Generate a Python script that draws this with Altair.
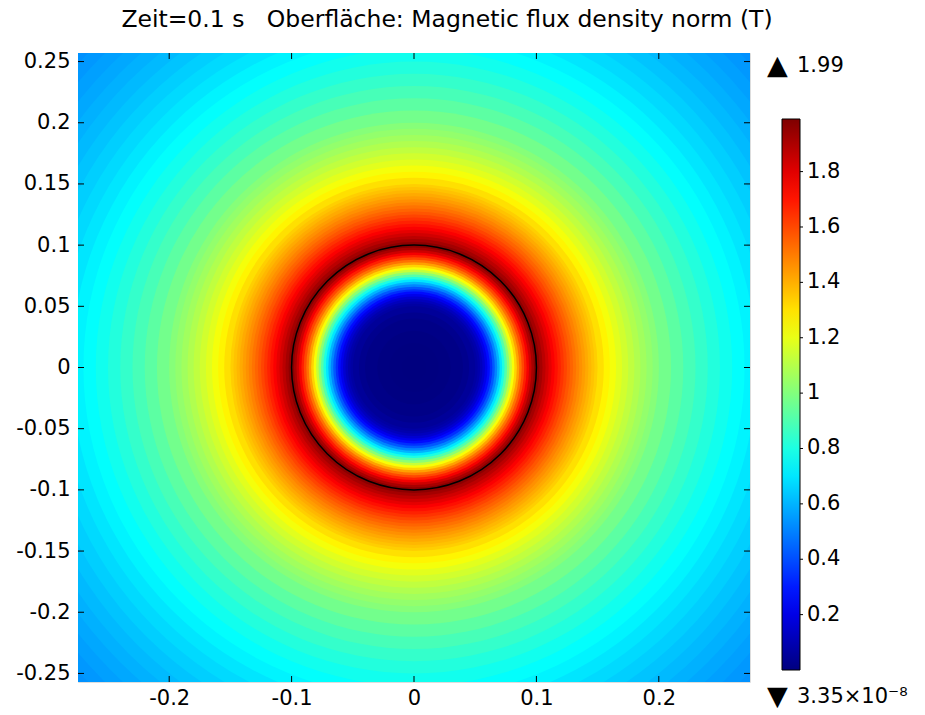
import math
import altair as alt
import pandas as pd

# ---------------- data ----------------
# radial profile of |B| (T): outer radius of each ring (m) and its value
ring_outer_r = [
    0.010, 0.020, 0.030, 0.040, 0.045, 0.050, 0.052, 0.054, 0.056, 0.058,
    0.060, 0.062, 0.064, 0.066, 0.068, 0.070, 0.072, 0.074, 0.076, 0.078,
    0.080, 0.082, 0.084, 0.086, 0.088, 0.090, 0.092, 0.094, 0.096, 0.098,
    0.100, 0.1025, 0.105, 0.1075, 0.110, 0.1125, 0.115, 0.1175, 0.120, 0.1225,
    0.125, 0.1275, 0.130, 0.1325, 0.135, 0.1375, 0.140, 0.1425, 0.145, 0.1475,
    0.150, 0.155, 0.160, 0.165, 0.170, 0.175, 0.180, 0.185, 0.190, 0.195,
    0.200, 0.210, 0.220, 0.230, 0.240, 0.250, 0.260, 0.270, 0.280, 0.290,
    0.300, 0.310, 0.320, 0.330, 0.340, 0.350, 0.360, 0.370, 0.380,
]
ring_B = [
    0.000, 0.002, 0.006, 0.015, 0.030, 0.050, 0.070, 0.090, 0.120, 0.160,
    0.210, 0.270, 0.340, 0.420, 0.510, 0.600, 0.700, 0.800, 0.910, 1.020,
    1.130, 1.230, 1.330, 1.430, 1.520, 1.600, 1.680, 1.760, 1.840, 1.910,
    1.970, 1.965, 1.918, 1.873, 1.830, 1.789, 1.749, 1.712, 1.676, 1.641,
    1.608, 1.576, 1.546, 1.516, 1.488, 1.461, 1.434, 1.409, 1.384, 1.361,
    1.338, 1.305, 1.263, 1.225, 1.188, 1.154, 1.121, 1.090, 1.061, 1.034,
    1.008, 0.971, 0.926, 0.884, 0.847, 0.812, 0.780, 0.751, 0.724, 0.698,
    0.675, 0.652, 0.632, 0.612, 0.594, 0.577, 0.561, 0.545, 0.531,
]
boundary_r = [0.1]
x_tick_values = [-0.2, -0.1, 0.0, 0.1, 0.2]
y_tick_values = [-0.25, -0.2, -0.15, -0.1, -0.05, 0.0, 0.05, 0.1, 0.15, 0.2, 0.25]
cbar_label_values = [0.2, 0.4, 0.6, 0.8, 1.0, 1.2, 1.4, 1.6, 1.8]
b_max_label = ["1.99"]
b_min_label = ["3.35\u00D710\u207B\u2078"]
max_marker = ["\u25B2"]
min_marker = ["\u25BC"]
title_text = ["Zeit=0.1 s\u00a0\u00a0\u00a0Oberfläche: Magnetic flux density norm (T)"]

# ---------------- layout ----------------
W, H = 672, 629
PX_PER_UNIT = 1224.0
FONT = "DejaVu Sans"
FS = 21
CB_X, CB_Y, CB_LEN, CB_THICK = 704, 66, 551, 18

rings = pd.DataFrame({"r": ring_outer_r, "B": ring_B})
rings["cx"] = 0.0
rings["cy"] = 0.0
rings = rings.sort_values("r", ascending=False).reset_index(drop=True)

bound = pd.DataFrame({"r": boundary_r})
bound["cx"] = 0.0
bound["cy"] = 0.0

x_scale = alt.Scale(domain=[-0.2745, 0.2745], nice=False, zero=False)
y_scale = alt.Scale(domain=[-0.257, 0.257], nice=False, zero=False)
r_scale = alt.Scale(type="linear", domain=[0, 0.4], range=[0, 0.4 * PX_PER_UNIT], zero=True)

jet_domain = [0, 0.125 * 1.99, 0.375 * 1.99, 0.625 * 1.99, 0.875 * 1.99, 1.99]
jet_colors = ["#00007f", "#0000ff", "#00ffff", "#ffff00", "#ff0000", "#7f0000"]
color_scale = alt.Scale(domain=jet_domain, range=jet_colors, interpolate="rgb")

x_axis = alt.Axis(values=x_tick_values, labelExpr="toString(datum.value)", ticks=False,
                  domain=False, grid=False, labelFontSize=FS, labelFont=FONT,
                  labelColor="black", labelPadding=5)
y_axis = alt.Axis(values=y_tick_values, labelExpr="toString(datum.value)", ticks=False,
                  domain=False, grid=False, labelFontSize=FS, labelFont=FONT,
                  labelColor="black", labelPadding=8)

legend = alt.Legend(orient="none", legendX=CB_X, legendY=CB_Y, direction="vertical",
                    gradientLength=CB_LEN, gradientThickness=CB_THICK,
                    gradientStrokeColor="black", gradientStrokeWidth=1,
                    values=cbar_label_values, labelExpr="toString(datum.value)",
                    labelFontSize=FS, labelFont=FONT, labelColor="black",
                    labelOffset=7, padding=0)

field = alt.Chart(rings).mark_arc(theta=0, theta2=2 * math.pi, clip=True).encode(
    x=alt.X("cx:Q", scale=x_scale, axis=x_axis, title=None),
    y=alt.Y("cy:Q", scale=y_scale, axis=y_axis, title=None),
    radius=alt.Radius("r:Q", scale=r_scale, stack=False),
    color=alt.Color("B:Q", scale=color_scale, legend=legend, title=None),
)

outline = alt.Chart(bound).mark_arc(
    theta=0, theta2=2 * math.pi, fillOpacity=0, stroke="black", strokeWidth=1.5, clip=True
).encode(
    x=alt.X("cx:Q", scale=x_scale, title=None),
    y=alt.Y("cy:Q", scale=y_scale, axis=None),
    radius=alt.Radius("r:Q", scale=r_scale, stack=False),
)

TL = 6
xt = pd.DataFrame({"t": x_tick_values})
yt = pd.DataFrame({"t": y_tick_values})
tick_bottom = alt.Chart(xt).mark_rule(color="black", strokeWidth=1).encode(
    x=alt.X("t:Q", scale=x_scale, title=None), y=alt.value(H), y2=alt.value(H - TL))
tick_top = alt.Chart(xt).mark_rule(color="black", strokeWidth=1).encode(
    x=alt.X("t:Q", scale=x_scale, title=None), y=alt.value(0), y2=alt.value(TL))
tick_left = alt.Chart(yt).mark_rule(color="black", strokeWidth=1).encode(
    y=alt.Y("t:Q", scale=y_scale, axis=None), x=alt.value(0), x2=alt.value(TL))
tick_right = alt.Chart(yt).mark_rule(color="black", strokeWidth=1).encode(
    y=alt.Y("t:Q", scale=y_scale, axis=None), x=alt.value(W), x2=alt.value(W - TL))

# small ticks on the colour bar
cbt = pd.DataFrame({"v": cbar_label_values})
cbar_ticks = alt.Chart(cbt).mark_rule(color="black", strokeWidth=1).encode(
    y=alt.Y("v:Q", scale=alt.Scale(domain=[0, 1.99], range=[CB_Y + CB_LEN, CB_Y],
                                   nice=False, zero=False), axis=None),
    x=alt.value(CB_X + CB_THICK - 2), x2=alt.value(CB_X + CB_THICK + 3),
)


def label(values, x, y, size=FS, align="left"):
    return alt.Chart(pd.DataFrame({"s": values})).mark_text(
        align=align, baseline="middle", fontSize=size, font=FONT, color="black"
    ).encode(text="s:N", x=alt.value(x), y=alt.value(y))


top_marker = label(max_marker, 689, 13, size=27)
top_lab = label(b_max_label, 719, 13)
bot_marker = label(min_marker, 689, 644, size=27)
bot_lab = label(b_min_label, 719, 644)
title = label(title_text, 369, -33, size=23.5, align="center")

chart = alt.layer(
    field, outline, tick_bottom, tick_top, tick_left, tick_right, cbar_ticks,
    top_marker, top_lab, bot_marker, bot_lab, title
).resolve_scale(y="independent").resolve_axis(x="shared").properties(
    width=W, height=H,
    autosize=alt.AutoSizeParams(type="none"),
    padding={"left": 78, "top": 53, "right": 175, "bottom": 33},
).configure_view(stroke="black", strokeWidth=1).configure(font=FONT, background="white")

chart.save("out.html", embed_options={"renderer": "svg", "actions": False})
